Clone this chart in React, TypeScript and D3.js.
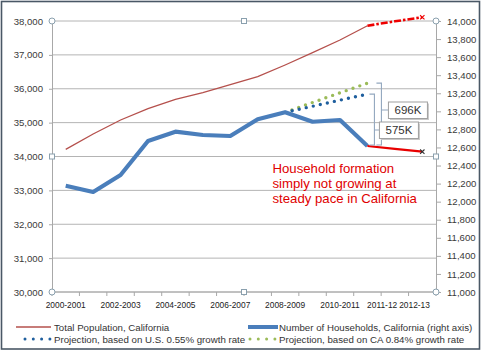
import * as d3 from 'd3';
import { useEffect, useRef } from 'react';

// fiscal years on the category axis
const categories = [
  '2000-2001', '2001-2002', '2002-2003', '2003-2004', '2004-2005', '2005-2006', '2006-2007',
  '2007-2008', '2008-2009', '2009-2010', '2010-2011', '2011-2012', '2012-2013', '2013-2014',
];
const shownLabels = ['2000-2001', '2002-2003', '2004-2005', '2006-2007', '2008-2009', '2010-2011'];
const extraLabels = ['2011-12', '2012-13'];

// thousands, left axis
const population = [34212, 34664, 35077, 35411, 35688, 35883, 36121, 36356, 36701, 37064, 37440, 37861];
const populationTrend = [37861, 37990, 38110]; // from 2011-2012

// thousands, right axis
const households = [12177, 12107, 12295, 12672, 12775, 12738, 12727, 12912, 12989, 12885, 12904, 12616];
const householdTrend = [12616, 12585, 12553]; // from 2011-2012
const projectionUS = [12989, 13056, 13124, 13191]; // from 2008-2009
const projectionCA = [12989, 13098, 13205, 13312];

const leftTicks = [30000, 31000, 32000, 33000, 34000, 35000, 36000, 37000, 38000];
const rightTicks = [11000, 11200, 11400, 11600, 11800, 12000, 12200, 12400, 12600, 12800, 13000, 13200, 13400, 13600, 13800, 14000];

const note = ['Household formation', 'simply not growing at', 'steady pace in California'];
const gapLabels = ['696K', '575K'];

const legendItems = [
  'Total Population, California',
  'Number of Households, California (right axis)',
  'Projection, based on U.S. 0.55% growth rate',
  'Projection, based on CA 0.84% growth rate',
];

const FONT = '"Liberation Sans", Arial, sans-serif';

function App() {
  const svgRef = useRef<SVGSVGElement>(null);

  useEffect(() => {
    const svg = d3.select(svgRef.current);
    svg.selectAll('*').remove();

    const left = 52, right = 436, top = 21, bottom = 292;
    const x = d3.scaleBand<number>().domain(d3.range(categories.length)).range([left, right]);
    const cx = (i: number) => (x(i) as number) + x.bandwidth() / 2;
    const yL = d3.scaleLinear().domain([30000, 38000]).range([bottom, top]);
    const yR = d3.scaleLinear().domain([11000, 14000]).range([bottom, top]);

    // chart frame
    svg.append('rect')
      .attr('x', 1.5).attr('y', 1.5).attr('width', 478).attr('height', 347.5)
      .attr('fill', '#fff').attr('stroke', '#4a5866').attr('stroke-width', 1.6);

    // gridlines
    svg.append('g')
      .selectAll('line')
      .data(leftTicks)
      .join('line')
      .attr('x1', left).attr('x2', right)
      .attr('y1', d => yL(d)).attr('y2', d => yL(d))
      .attr('stroke', '#b4b4b4').attr('stroke-width', 1);

    // left axis
    const gl = svg.append('g')
      .attr('transform', `translate(${left},0)`)
      .call(d3.axisLeft(yL).tickValues(leftTicks).tickSize(3).tickPadding(6).tickFormat(d3.format(',')));
    // right axis
    const gr = svg.append('g')
      .attr('transform', `translate(${right},0)`)
      .call(d3.axisRight(yR).tickValues(rightTicks).tickSize(5).tickPadding(6).tickFormat(d3.format(',')));
    [gl, gr].forEach(g => {
      g.select('.domain').attr('stroke', '#a8a8a8');
      g.selectAll('.tick line').attr('stroke', '#a8a8a8');
      g.selectAll('.tick text')
        .attr('fill', '#3a3a3a')
        .style('font-family', FONT)
        .style('font-size', '9.6px');
    });

    // bottom axis
    svg.append('line')
      .attr('x1', left).attr('x2', right).attr('y1', bottom).attr('y2', bottom)
      .attr('stroke', '#a8a8a8');
    svg.append('g')
      .selectAll('line')
      .data(d3.range(categories.length + 1))
      .join('line')
      .attr('x1', i => (i < categories.length ? (x(i) as number) : right))
      .attr('x2', i => (i < categories.length ? (x(i) as number) : right))
      .attr('y1', bottom).attr('y2', bottom + 4)
      .attr('stroke', '#a8a8a8');
    const xText = svg.append('g')
      .style('font-family', FONT).style('font-size', '8.4px').attr('fill', '#222')
      .attr('text-anchor', 'middle');
    xText.selectAll('text.main')
      .data(shownLabels)
      .join('text')
      .attr('class', 'main')
      .attr('x', d => cx(categories.indexOf(d)))
      .attr('y', 308)
      .text(d => d);
    xText.selectAll('text.extra')
      .data(extraLabels)
      .join('text')
      .attr('class', 'extra')
      .attr('x', (d, i) => (x(12 + i) as number) + 1 + i * 5)
      .attr('y', 308)
      .text(d => d);

    // series
    const lineL = (offset: number) => d3.line<number>().x((d, i) => cx(i + offset)).y(d => yL(d));
    const lineR = (offset: number) => d3.line<number>().x((d, i) => cx(i + offset)).y(d => yR(d));

    svg.append('path')
      .attr('d', lineL(0)(population))
      .attr('fill', 'none').attr('stroke', '#b5504c').attr('stroke-width', 1.3);

    svg.append('path')
      .attr('d', lineR(8)(projectionCA))
      .attr('fill', 'none').attr('stroke', '#9bbb59').attr('stroke-width', 3.4)
      .attr('stroke-linecap', 'round').attr('stroke-dasharray', '0 7.2');
    svg.append('path')
      .attr('d', lineR(8)(projectionUS))
      .attr('fill', 'none').attr('stroke', '#1f5f9e').attr('stroke-width', 3.4)
      .attr('stroke-linecap', 'round').attr('stroke-dasharray', '0 7.2');

    svg.append('path')
      .attr('d', lineR(0)(households))
      .attr('fill', 'none').attr('stroke', '#4a7ebb').attr('stroke-width', 4.2)
      .attr('stroke-linejoin', 'round');

    svg.append('path')
      .attr('d', lineR(11)(householdTrend))
      .attr('fill', 'none').attr('stroke', '#e80000').attr('stroke-width', 2.2);
    svg.append('path')
      .attr('d', lineL(11)(populationTrend))
      .attr('fill', 'none').attr('stroke', '#ee0000').attr('stroke-width', 2.6)
      .attr('stroke-dasharray', '7 2 2.5 2');

    const cross = (px: number, py: number, color: string) => {
      svg.append('path')
        .attr('d', `M${px - 2.2},${py - 2.2}L${px + 2.2},${py + 2.2}M${px - 2.2},${py + 2.2}L${px + 2.2},${py - 2.2}`)
        .attr('stroke', color).attr('stroke-width', 1.1);
    };
    cross(cx(13), yR(householdTrend[2]), '#333');
    cross(cx(13), yL(populationTrend[2]), '#ee0000');

    // gap brackets
    const endX = cx(11);
    const yBase = yR(households[11]);
    const brackets = [
      { top: yR(projectionCA[3]), bx: endX + 14, lx: endX + 21, ly: 110, label: gapLabels[0], w: 39 },
      { top: yR(projectionUS[3]), bx: endX + 7, lx: endX + 12, ly: 130, label: gapLabels[1], w: 39 },
    ];
    brackets.forEach(b => {
      svg.append('path')
        .attr('d', `M${b.bx - 5},${b.top}H${b.bx}V${yBase - 1}H${b.bx - 5}M${b.bx},${b.ly}H${b.lx}`)
        .attr('fill', 'none').attr('stroke', '#93a8bf').attr('stroke-width', 1.1);
    });
    brackets.forEach(b => {
      svg.append('rect')
        .attr('x', b.lx + 1.5).attr('y', b.ly - 8 + 1.5).attr('width', b.w).attr('height', 16.5)
        .attr('fill', '#c8c8c8');
      svg.append('rect')
        .attr('x', b.lx).attr('y', b.ly - 8).attr('width', b.w).attr('height', 16.5)
        .attr('fill', '#fff').attr('stroke', '#a0a0a0');
      svg.append('text')
        .attr('x', b.lx + b.w / 2).attr('y', b.ly + 4.3)
        .attr('text-anchor', 'middle').attr('fill', '#333')
        .style('font-family', FONT).style('font-size', '11.5px')
        .text(b.label);
    });

    // annotation
    svg.append('g')
      .selectAll('text')
      .data(note)
      .join('text')
      .attr('x', 272.5)
      .attr('y', (d, i) => 172.5 + i * 15)
      .attr('fill', '#e00000')
      .style('font-family', FONT).style('font-size', '13.2px')
      .text(d => d);

    // plot-area handles
    const handles = [
      [left, top, 'c'], [(left + right) / 2, top, 's'], [right, top, 'c'],
      [left, (top + bottom) / 2, 's'], [right, (top + bottom) / 2, 's'],
      [left, bottom, 'c'], [(left + right) / 2, bottom, 's'], [right, bottom, 'c'],
    ] as [number, number, string][];
    handles.forEach(([hx, hy, t]) => {
      if (t === 'c') {
        svg.append('circle').attr('cx', hx).attr('cy', hy).attr('r', 3)
          .attr('fill', '#fff').attr('stroke', '#8aa0ae').attr('stroke-width', 1);
      } else {
        svg.append('rect').attr('x', hx - 2.5).attr('y', hy - 2.5).attr('width', 5).attr('height', 5)
          .attr('fill', '#fff').attr('stroke', '#8aa0ae').attr('stroke-width', 1);
      }
    });

    // legend
    const lg = svg.append('g').style('font-family', FONT).style('font-size', '9.7px').attr('fill', '#333');
    lg.append('line').attr('x1', 16).attr('x2', 51).attr('y1', 327).attr('y2', 327)
      .attr('stroke', '#b5504c').attr('stroke-width', 1.3);
    lg.append('line').attr('x1', 248).attr('x2', 278).attr('y1', 327).attr('y2', 327)
      .attr('stroke', '#4a7ebb').attr('stroke-width', 4);
    lg.append('line').attr('x1', 25).attr('x2', 51).attr('y1', 339).attr('y2', 339)
      .attr('stroke', '#1f5f9e').attr('stroke-width', 3).attr('stroke-linecap', 'round')
      .attr('stroke-dasharray', '0 8.3');
    lg.append('line').attr('x1', 250).attr('x2', 276).attr('y1', 339).attr('y2', 339)
      .attr('stroke', '#9bbb59').attr('stroke-width', 3).attr('stroke-linecap', 'round')
      .attr('stroke-dasharray', '0 8.3');
    lg.selectAll('text')
      .data(legendItems)
      .join('text')
      .attr('x', (d, i) => (i % 2 === 0 ? 54 : 279))
      .attr('y', (d, i) => (i < 2 ? 330.5 : 342.5))
      .text(d => d);
  }, []);

  return (
    <svg
      ref={svgRef}
      width={482}
      height={353}
      style={{ position: 'absolute', left: 0, top: 0, background: '#fff' }}
    />
  );
}

export default App;
